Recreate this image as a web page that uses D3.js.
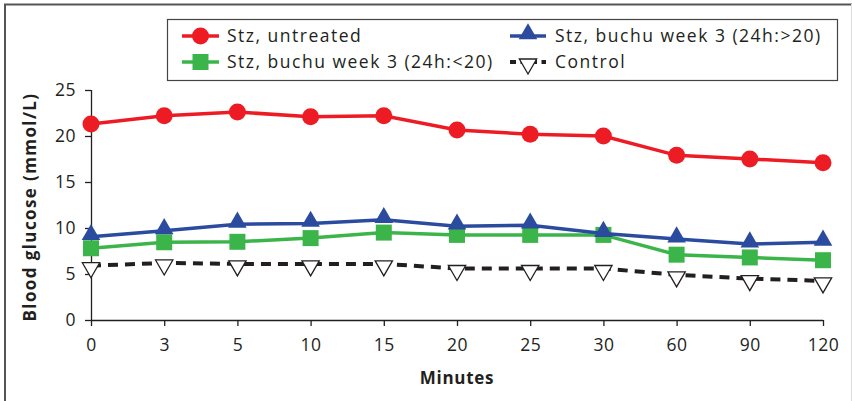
<!DOCTYPE html>
<html><head><meta charset="utf-8">
<script src="https://cdn.jsdelivr.net/npm/d3@7"></script>
<style>
body{margin:0;background:#fff;}
svg{display:block;font-family:"Open Sans",sans-serif;}
</style></head>
<body><svg id="c" width="852" height="401"></svg>
<script>
const categories = ["0","3","5","10","15","20","25","30","60","90","120"];
const untreated = [21.3,22.2,22.6,22.1,22.2,20.65,20.2,20.0,17.9,17.5,17.1];
const buchuHigh = [9.05,9.7,10.4,10.5,10.9,10.2,10.3,9.4,8.8,8.25,8.45];
const buchuLow = [7.8,8.45,8.5,8.9,9.5,9.25,9.25,9.25,7.1,6.8,6.5];
const control = [5.9,6.2,6.1,6.1,6.1,5.6,5.6,5.6,4.9,4.5,4.25];
const yTicks = [0,5,10,15,20,25];
const seriesNames = ["Stz, untreated","Stz, buchu week 3 (24h:>20)","Stz, buchu week 3 (24h:<20)","Control"];

const svg = d3.select("#c");
const x = d3.scalePoint().domain(categories).range([91,823]);
const y = d3.scaleLinear().domain([0,25]).range([320,90]);
const axisColor = "#231f20";
const FONT = "'Open Sans',sans-serif";

// frame
svg.append("path").attr("d","M5,401 V4.5 H852").attr("fill","none").attr("stroke","#555").attr("stroke-width",2);
svg.append("line").attr("x1",851.5).attr("x2",851.5).attr("y1",4).attr("y2",401).attr("stroke","#ddd").attr("stroke-width",1);

// axes
const gy = svg.append("g").attr("transform","translate(91,0)")
  .call(d3.axisLeft(y).tickValues(yTicks).tickSize(6).tickPadding(9));
const gx = svg.append("g").attr("transform","translate(0,320)")
  .call(d3.axisBottom(x).tickSize(6).tickPadding(13));
[gx,gy].forEach(g=>{
  g.selectAll("path,line").attr("stroke",axisColor).attr("stroke-width",1.3);
  g.selectAll("text").attr("fill","#231f20").style("font-size","17.5px").style("font-family",FONT).style("letter-spacing","0.5px");
});
gx.select(".domain").attr("d","M91,0.5H823");
gy.select(".domain").attr("d","M0.5,90V320");

svg.append("text").attr("transform","translate(36,207) rotate(-90)").attr("text-anchor","middle")
  .style("font-size","17px").style("font-weight","bold").style("letter-spacing","1.4px").attr("fill","#231f20").text("Blood glucose (mmol/L)");
svg.append("text").attr("x",457).attr("y",384).attr("text-anchor","middle")
  .style("font-size","17px").style("font-weight","bold").style("letter-spacing","0.7px").attr("fill","#231f20").text("Minutes");

const series = [
  {name:seriesNames[3], vals:control, color:"#231f20", dash:"10,7", sym:"tri-down"},
  {name:seriesNames[2], vals:buchuLow, color:"#3bb54a", dash:null, sym:"square"},
  {name:seriesNames[1], vals:buchuHigh, color:"#2b4b9f", dash:null, sym:"triangle"},
  {name:seriesNames[0], vals:untreated, color:"#ed1c24", dash:null, sym:"circle"}
];
const line = d3.line().x((d,i)=>x(categories[i])).y(d=>y(d));

function drawMarker(g, sym, color, cx, cy){
  if(sym==="circle"){
    g.append("circle").attr("cx",cx).attr("cy",cy).attr("r",8.5).attr("fill",color);
  } else if(sym==="square"){
    g.append("path").attr("d",d3.symbol(d3.symbolSquare,256)()).attr("transform",`translate(${cx},${cy})`).attr("fill",color);
  } else if(sym==="triangle"){
    g.append("path").attr("d",d3.symbol(d3.symbolTriangle,150)()).attr("transform",`translate(${cx},${cy-2})`).attr("fill",color);
  } else {
    g.append("path").attr("d",d3.symbol(d3.symbolTriangle,130)()).attr("transform",`translate(${cx},${cy+2}) rotate(180)`)
      .attr("fill","#fff").attr("stroke",color).attr("stroke-width",1.3);
  }
}

series.forEach(s=>{
  svg.append("path").datum(s.vals).attr("d",line).attr("fill","none").attr("stroke",s.color)
    .attr("stroke-width",s.dash?4:3.5).attr("stroke-dasharray",s.dash);
  const g = svg.append("g");
  s.vals.forEach((v,i)=>drawMarker(g,s.sym,s.color,x(categories[i]),y(v)));
});

// legend
svg.append("rect").attr("x",167.5).attr("y",19.5).attr("width",670).attr("height",61)
  .attr("fill","#fff").attr("stroke","#444").attr("stroke-width",1.2);
const leg = [
  {s:series[3], x1:182, x2:219, y:36, tx:227},
  {s:series[2], x1:510, x2:546, y:36, tx:555},
  {s:series[1], x1:182, x2:219, y:62, tx:227},
  {s:series[0], x1:510, x2:546, y:62, tx:555}
];
leg.forEach(l=>{
  const s=l.s;
  svg.append("line").attr("x1",l.x1).attr("x2",l.x2).attr("y1",l.y).attr("y2",l.y).attr("stroke",s.color)
    .attr("stroke-width",s.dash?4:3.5).attr("stroke-dasharray",s.dash?"6,4.5":null);
  const g=svg.append("g");
  drawMarker(g,s.sym,s.color,(l.x1+l.x2)/2,l.y);
  svg.append("text").attr("x",l.tx).attr("y",l.y+6).style("font-size","17.5px").style("letter-spacing","1.5px")
    .attr("fill","#231f20").text(s.name);
});
</script></body></html>
